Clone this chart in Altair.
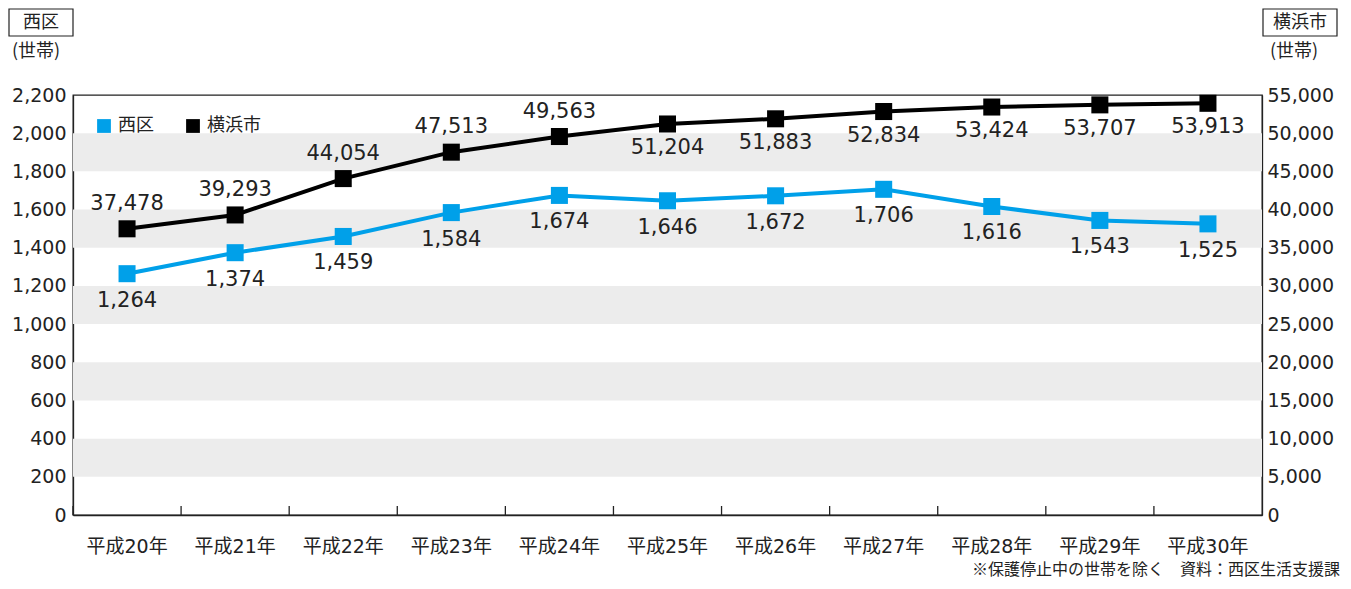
import altair as alt
import pandas as pd

years = ["平成20年", "平成21年", "平成22年", "平成23年", "平成24年", "平成25年",
         "平成26年", "平成27年", "平成28年", "平成29年", "平成30年"]
nishi = [1264, 1374, 1459, 1584, 1674, 1646, 1672, 1706, 1616, 1543, 1525]
yokohama = [37478, 39293, 44054, 47513, 49563, 51204, 51883, 52834, 53424, 53707, 53913]
series_names = ["西区", "横浜市"]
band_lo = [200, 600, 1000, 1400, 1800]
band_hi = [400, 800, 1200, 1600, 2000]
left_ticks = list(range(0, 2201, 200))
right_ticks = list(range(0, 55001, 5000))

FONT = "DejaVu Sans, Noto Sans CJK JP"
CJK = "Noto Sans CJK JP"
TXT = "#222222"
BLUE = "#00a0e9"
BLACK = "#000000"

df_n = pd.DataFrame({"year": years, "series": "西区", "value": nishi, "idx": range(11)})
df_y = pd.DataFrame({"year": years, "series": "横浜市", "value": yokohama, "idx": range(11)})
df_b = pd.DataFrame({"lo": band_lo, "hi": band_hi})
df_t = pd.DataFrame({"year": years})

xscale = alt.Scale(type="band", paddingInner=0, paddingOuter=0)
xaxis = alt.Axis(title=None, ticks=False, labelPadding=22, labelFontSize=19,
                 labelAngle=0, bandPosition=0.5, labelColor=TXT, labelFont=FONT,
                 domainColor=TXT, domainWidth=1.3)
xenc = alt.X("year:N", sort=years, scale=xscale, axis=xaxis)

color = alt.Color("series:N",
                  scale=alt.Scale(domain=series_names, range=[BLUE, BLACK]),
                  legend=alt.Legend(title=None, orient="none", legendX=22, legendY=22,
                                    direction="horizontal", symbolType="square",
                                    symbolSize=190, symbolStrokeWidth=0,
                                    labelFontSize=18, labelFont=CJK, labelColor=TXT,
                                    columnPadding=30, labelOffset=5))

yl_scale = alt.Scale(domain=[0, 2200], nice=False, zero=True)
yr_scale = alt.Scale(domain=[0, 55000], nice=False, zero=True)

yl_axis = alt.Axis(title=None, values=left_ticks, format=",d", ticks=False, grid=False,
                   labelPadding=7, labelFontSize=19, labelColor=TXT, labelFont=FONT,
                   domainColor=TXT, domainWidth=1.3)
yr_axis = alt.Axis(title=None, orient="right", values=right_ticks, format=",d", ticks=False,
                   grid=False, labelPadding=5, labelFontSize=19, labelColor=TXT,
                   labelFont=FONT, domainColor=TXT, domainWidth=1.3)

bands = alt.Chart(df_b).mark_rect(color="#ececec").encode(
    y=alt.Y("lo:Q", scale=yl_scale, axis=yl_axis),
    y2="hi:Q",
)

tfont = dict(font=FONT, fontSize=21, color=TXT)
MS = 290

yl = alt.Y("value:Q", scale=yl_scale, axis=yl_axis)
blue_line = alt.Chart(df_n).mark_line(color=BLUE, strokeWidth=4).encode(x=xenc, y=yl)
blue_pts = alt.Chart(df_n).mark_point(shape="square", filled=True, size=MS, opacity=1).encode(
    x=xenc, y=yl, color=color)
blue_txt = alt.Chart(df_n).mark_text(dy=27, **tfont).encode(
    x=xenc, y=yl, text=alt.Text("value:Q", format=",d"))

ticks = alt.Chart(df_t).mark_rule(color=TXT, strokeWidth=1.3).encode(
    x=alt.X("year:N", sort=years, scale=xscale, bandPosition=0, axis=xaxis),
    y=alt.value(420),
    y2=alt.value(411),
)

left = alt.layer(bands, blue_line, blue_pts, blue_txt, ticks)

yr = alt.Y("value:Q", scale=yr_scale, axis=yr_axis)
blk_line = alt.Chart(df_y).mark_line(color=BLACK, strokeWidth=4).encode(x=xenc, y=yr)
blk_pts = alt.Chart(df_y).mark_point(shape="square", filled=True, size=MS, opacity=1).encode(
    x=xenc, y=yr, color=color)
blk_txt_a = alt.Chart(df_y).transform_filter("datum.idx <= 4").mark_text(dy=-25, **tfont).encode(
    x=xenc, y=yr, text=alt.Text("value:Q", format=",d"))
blk_txt_b = alt.Chart(df_y).transform_filter("datum.idx >= 5").mark_text(dy=24, **tfont).encode(
    x=xenc, y=yr, text=alt.Text("value:Q", format=",d"))

right = alt.layer(blk_line, blk_pts, blk_txt_a, blk_txt_b)

one = pd.DataFrame({"t": [0]})
box_l = alt.Chart(one).mark_rect(filled=False, stroke=TXT, strokeWidth=1.2).encode(
    x=alt.value(-64), x2=alt.value(0), y=alt.value(-86), y2=alt.value(-59))
box_r = alt.Chart(one).mark_rect(filled=False, stroke=TXT, strokeWidth=1.2).encode(
    x=alt.value(1190), x2=alt.value(1264), y=alt.value(-86), y2=alt.value(-59))
title_l = alt.Chart(one).mark_text(font=CJK, fontSize=18, color=TXT).encode(
    x=alt.value(-32), y=alt.value(-72), text=alt.value("西区"))
title_r = alt.Chart(one).mark_text(font=CJK, fontSize=18, color=TXT).encode(
    x=alt.value(1227), y=alt.value(-72), text=alt.value("横浜市"))
unit_l = alt.Chart(one).mark_text(font=CJK, fontSize=18, color=TXT).encode(
    x=alt.value(-37), y=alt.value(-43), text=alt.value("(世帯)"))
unit_r = alt.Chart(one).mark_text(font=CJK, fontSize=18, color=TXT).encode(
    x=alt.value(1221), y=alt.value(-43), text=alt.value("(世帯)"))
foot = alt.Chart(one).mark_text(font=CJK, fontSize=16, color=TXT, align="right").encode(
    x=alt.value(1267), y=alt.value(475), text=alt.value("※保護停止中の世帯を除く　資料：西区生活支援課"))

chart = alt.layer(left, right, box_l, box_r, title_l, title_r, unit_l, unit_r, foot).resolve_scale(
    y="independent"
).properties(
    width=1189, height=420,
    autosize=alt.AutoSizeParams(type="none"),
    padding={"left": 65, "top": 87, "right": 80, "bottom": 66},
).configure_view(stroke=TXT, strokeWidth=1.3)

chart.save("out.html", embed_options={"renderer": "svg", "actions": False})
